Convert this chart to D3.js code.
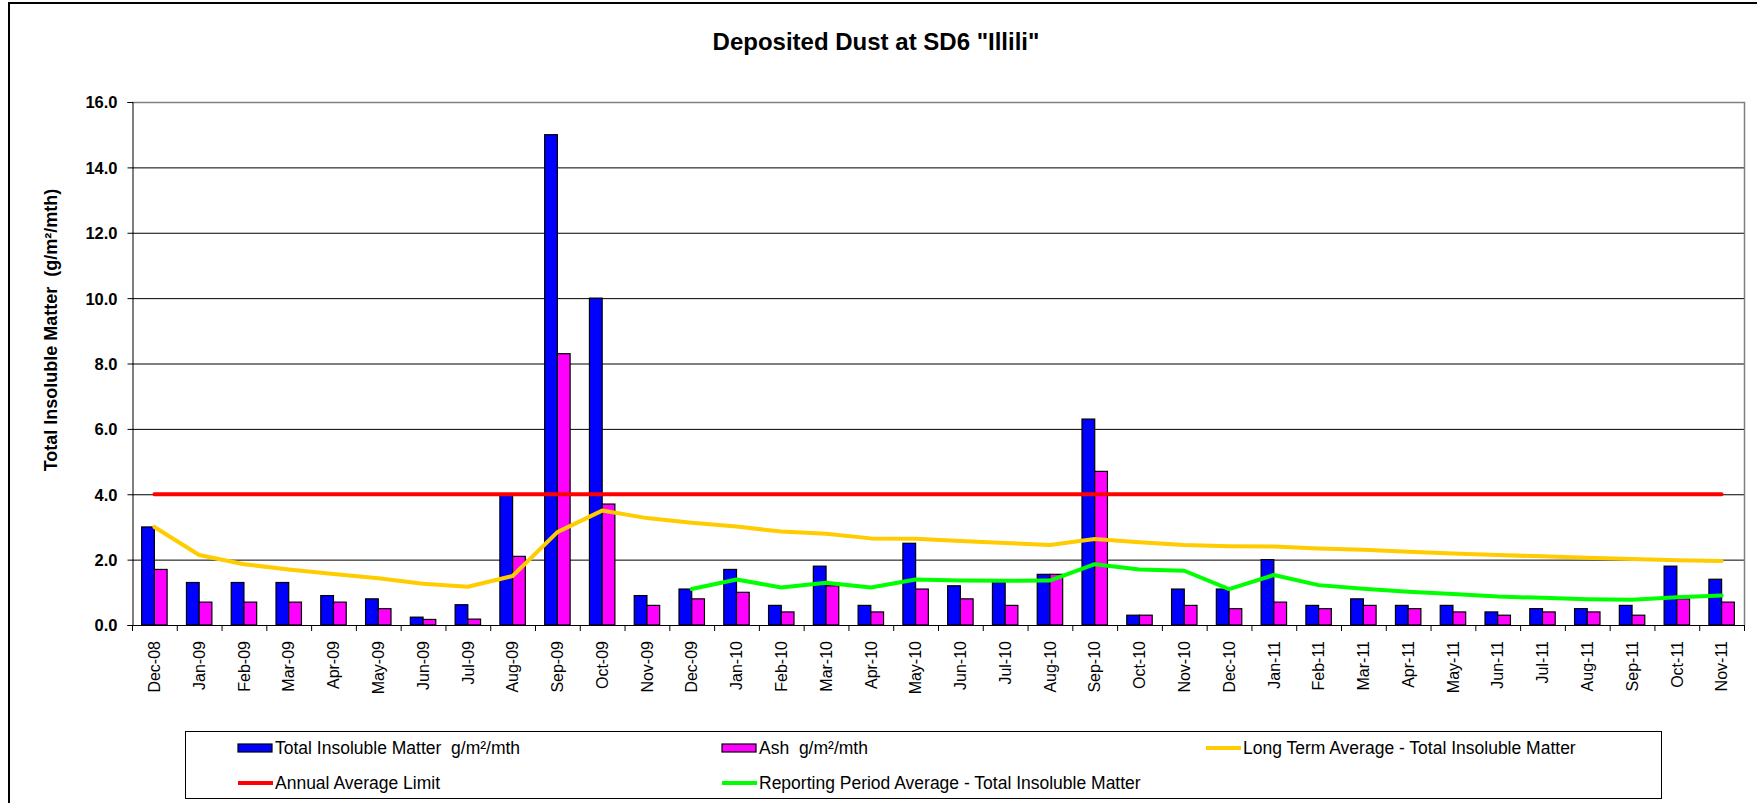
<!DOCTYPE html>
<html>
<head>
<meta charset="utf-8">
<script src="https://cdn.jsdelivr.net/npm/d3@7"></script>
<style>
  body { margin: 0; background: #fff; }
  svg { display: block; font-family: Arial, "Liberation Sans", sans-serif; }
  svg text { white-space: pre; }
</style>
</head>
<body>
<div id="chart"></div>
<script>
// data
var months = ["Dec-08","Jan-09","Feb-09","Mar-09","Apr-09","May-09","Jun-09","Jul-09","Aug-09","Sep-09","Oct-09","Nov-09",
  "Dec-09","Jan-10","Feb-10","Mar-10","Apr-10","May-10","Jun-10","Jul-10","Aug-10","Sep-10","Oct-10","Nov-10",
  "Dec-10","Jan-11","Feb-11","Mar-11","Apr-11","May-11","Jun-11","Jul-11","Aug-11","Sep-11","Oct-11","Nov-11"];

var totalInsoluble = [3.0,1.3,1.3,1.3,0.9,0.8,0.24,0.62,4.0,15.0,10.0,0.9,
  1.1,1.7,0.6,1.8,0.6,2.5,1.2,1.3,1.55,6.3,0.3,1.1,
  1.1,2.0,0.6,0.8,0.6,0.6,0.4,0.5,0.5,0.6,1.8,1.4];

var ash = [1.7,0.7,0.7,0.7,0.7,0.5,0.17,0.18,2.1,8.3,3.7,0.6,
  0.8,1.0,0.4,1.2,0.4,1.1,0.8,0.6,1.55,4.7,0.3,0.6,
  0.5,0.7,0.5,0.6,0.5,0.4,0.3,0.4,0.4,0.3,0.8,0.7];

var longTermAvg = [3.0,2.14,1.86,1.70,1.56,1.43,1.26,1.17,1.5,2.84,3.5,3.27,
  3.13,3.01,2.86,2.79,2.65,2.64,2.57,2.51,2.45,2.63,2.53,2.45,
  2.41,2.40,2.34,2.30,2.24,2.19,2.14,2.10,2.06,2.02,1.98,1.96];

var annualLimit = [4,4,4,4,4,4,4,4,4,4,4,4, 4,4,4,4,4,4,4,4,4,4,4,4, 4,4,4,4,4,4,4,4,4,4,4,4];

var reportingAvg = [null,null,null,null,null,null,null,null,null,null,null,null,
  1.1,1.39,1.15,1.29,1.15,1.39,1.36,1.35,1.36,1.86,1.70,1.66,
  1.10,1.53,1.22,1.11,1.02,0.95,0.87,0.83,0.79,0.77,0.85,0.9];

var yTicks = [0,2,4,6,8,10,12,14,16];

var W = 1757, H = 803;
var plot = {left: 132, right: 1744, top: 102, bottom: 625};

var svg = d3.select("#chart").append("svg")
  .attr("width", W)
  .attr("height", H);

// outer frame
svg.append("rect")
  .attr("x", 9).attr("y", 3)
  .attr("width", 1770).attr("height", 820)
  .attr("fill", "none")
  .attr("stroke", "#000")
  .attr("stroke-width", 2);

// title
svg.append("text")
  .attr("x", 876).attr("y", 50)
  .attr("text-anchor", "middle")
  .style("font-size", "24px")
  .style("font-weight", "bold")
  .text('Deposited Dust at SD6 "Illili"');

// scales
var x = d3.scaleBand()
  .domain(months)
  .range([plot.left, plot.right])
  .padding(0);

var x1 = d3.scaleBand()
  .domain(["tim", "ash"])
  .range([0, x.bandwidth()])
  .paddingInner(0)
  .paddingOuter(0.76);

var y = d3.scaleLinear()
  .domain([0, 16])
  .range([plot.bottom, plot.top]);

// gridlines
svg.append("g")
  .selectAll("line")
  .data(yTicks.slice(1, -1))
  .enter()
  .append("line")
  .attr("x1", plot.left).attr("x2", plot.right)
  .attr("y1", function(d) { return y(d) + 0.5 })
  .attr("y2", function(d) { return y(d) + 0.5 })
  .attr("stroke", "#000")
  .attr("stroke-width", 1);

// plot area border (top + right)
svg.append("path")
  .attr("d", "M" + plot.left + "," + (plot.top + 0.5) + "H" + (plot.right + 0.5) + "V" + plot.bottom)
  .attr("fill", "none")
  .attr("stroke", "#808080")
  .attr("stroke-width", 1.5);

// y axis
svg.append("g")
  .attr("transform", "translate(" + (plot.left + 0.5) + ",0)")
  .call(d3.axisLeft(y).tickValues(yTicks).tickSize(5).tickFormat(d3.format(".1f")))
  .call(function(g) {
    g.select(".domain").attr("stroke", "#000");
    g.selectAll(".tick line").attr("stroke", "#000");
    g.selectAll(".tick text")
      .attr("x", -15)
      .attr("dy", "0.36em")
      .style("font-size", "16.5px")
      .style("font-weight", "bold")
      .style("font-family", "Arial, 'Liberation Sans', sans-serif")
      .attr("fill", "#000");
  });

// y axis title
svg.append("text")
  .attr("transform", "translate(57,330) rotate(-90)")
  .attr("text-anchor", "middle")
  .style("font-size", "18px")
  .style("font-weight", "bold")
  .text("Total Insoluble Matter  (g/m\u00b2/mth)");

// bars
var barData = months.map(function(m, i) {
  return {month: m, tim: totalInsoluble[i], ash: ash[i]};
});

var groups = svg.append("g")
  .selectAll("g")
  .data(barData)
  .enter()
  .append("g")
  .attr("transform", function(d) { return "translate(" + x(d.month) + ",0)" });

groups.append("rect")
  .attr("x", x1("tim"))
  .attr("y", function(d) { return y(d.tim) })
  .attr("width", x1.bandwidth())
  .attr("height", function(d) { return y(0) - y(d.tim) })
  .attr("fill", "#0000ff")
  .attr("stroke", "#000")
  .attr("stroke-width", 1.2);

groups.append("rect")
  .attr("x", x1("ash"))
  .attr("y", function(d) { return y(d.ash) })
  .attr("width", x1.bandwidth())
  .attr("height", function(d) { return y(0) - y(d.ash) })
  .attr("fill", "#ff00ff")
  .attr("stroke", "#000")
  .attr("stroke-width", 1.2);

// x axis line + ticks at category boundaries
svg.append("line")
  .attr("x1", plot.left).attr("x2", plot.right + 0.5)
  .attr("y1", plot.bottom + 0.5).attr("y2", plot.bottom + 0.5)
  .attr("stroke", "#000");

svg.append("g")
  .selectAll("line")
  .data(months.concat(["end"]))
  .enter()
  .append("line")
  .attr("x1", function(d, i) { return plot.left + i * x.step() + 0.5 })
  .attr("x2", function(d, i) { return plot.left + i * x.step() + 0.5 })
  .attr("y1", plot.bottom)
  .attr("y2", plot.bottom + 6)
  .attr("stroke", "#000");

// x labels
svg.append("g")
  .selectAll("text")
  .data(months)
  .enter()
  .append("text")
  .attr("transform", function(d) { return "translate(" + (x(d) + x.bandwidth() / 2) + ",641) rotate(-90)" })
  .attr("text-anchor", "end")
  .attr("dy", "0.36em")
  .style("font-size", "16px")
  .text(function(d) { return d });

// lines
var cx = function(d, i) { return x(months[i]) + x.bandwidth() / 2 };
var line = d3.line()
  .defined(function(d) { return d != null })
  .x(cx)
  .y(function(d) { return y(d) });

var lineSeries = [
  {values: annualLimit, color: "#ff0000"},
  {values: longTermAvg, color: "#ffcc00"},
  {values: reportingAvg, color: "#00ff00"}
];

svg.append("g")
  .selectAll("path")
  .data(lineSeries)
  .enter()
  .append("path")
  .attr("d", function(d) { return line(d.values) })
  .attr("fill", "none")
  .attr("stroke", function(d) { return d.color })
  .attr("stroke-width", 4)
  .attr("stroke-linecap", "round")
  .attr("stroke-linejoin", "round");

// legend
var legend = svg.append("g");
legend.append("rect")
  .attr("x", 185.5).attr("y", 731.5)
  .attr("width", 1476).attr("height", 67)
  .attr("fill", "#fff")
  .attr("stroke", "#000")
  .attr("stroke-width", 1);

var legendItems = [
  {label: "Total Insoluble Matter  g/m\u00b2/mth", type: "bar", color: "#0000ff", x: 238, y: 748},
  {label: "Ash  g/m\u00b2/mth", type: "bar", color: "#ff00ff", x: 722, y: 748},
  {label: "Long Term Average - Total Insoluble Matter", type: "line", color: "#ffcc00", x: 1206, y: 748},
  {label: "Annual Average Limit", type: "line", color: "#ff0000", x: 238, y: 783},
  {label: "Reporting Period Average - Total Insoluble Matter", type: "line", color: "#00ff00", x: 722, y: 783}
];

var li = legend.selectAll(".item")
  .data(legendItems)
  .enter()
  .append("g")
  .attr("class", "item")
  .attr("transform", function(d) { return "translate(" + d.x + "," + d.y + ")" });

li.filter(function(d) { return d.type == "bar" })
  .append("rect")
  .attr("x", 0).attr("y", -4)
  .attr("width", 34).attr("height", 8)
  .attr("fill", function(d) { return d.color })
  .attr("stroke", "#000")
  .attr("stroke-width", 1.2);

li.filter(function(d) { return d.type == "line" })
  .append("line")
  .attr("x1", 0).attr("x2", 35)
  .attr("y1", 0).attr("y2", 0)
  .attr("stroke", function(d) { return d.color })
  .attr("stroke-width", 4);

li.append("text")
  .attr("x", 37)
  .attr("dy", "0.36em")
  .style("font-size", "17.5px")
  .text(function(d) { return d.label });
</script>
</body>
</html>
